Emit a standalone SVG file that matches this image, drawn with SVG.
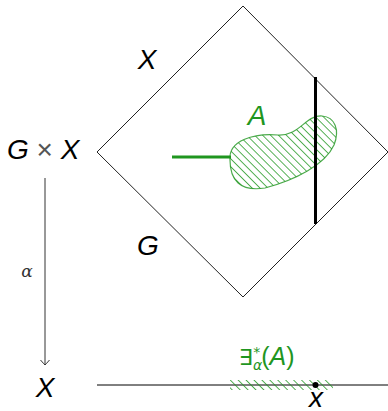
<svg xmlns="http://www.w3.org/2000/svg" width="388" height="411" viewBox="0 0 388 411">
<style>
.lbl{font-family:"Liberation Sans","DejaVu Sans",sans-serif;font-style:italic;font-size:28px;fill:#000}
.grn{fill:#1f961f}
</style>
<defs>
<pattern id="hatch" patternUnits="userSpaceOnUse" width="5.6" height="5.6" patternTransform="rotate(-45)">
<line x1="0" y1="0" x2="0" y2="5.6" stroke="#1f961f" stroke-width="1.5"/>
</pattern>
<marker id="to" viewBox="-6 -6 8 12" markerWidth="8" markerHeight="12" refX="0" refY="0" orient="auto" markerUnits="userSpaceOnUse">
<path d="M -5 -4.5 Q -1 -1 0 0 Q -1 1 -5 4.5" fill="none" stroke="#333" stroke-width="1"/>
</marker>
</defs>
<g id="diamond">
<polygon points="243,6 388,152 243,297 97,152" fill="none" stroke="#222" stroke-width="1"/>
<text class="lbl" x="147" y="69" text-anchor="middle">X</text>
<text class="lbl" x="148" y="255" text-anchor="middle">G</text>
</g>
<g id="GxX">
<text class="lbl" x="7" y="159">G <tspan font-style="normal" font-weight="300" fill="#555">×</tspan> X</text>
</g>
<g id="A">
<path d="M 230 160 C 228 140, 255 133, 278 135 C 300 136, 305 115, 322 116 C 335 117, 340 130, 334 145 C 325 165, 295 180, 265 188 C 240 192, 230 180, 230 160 Z" fill="url(#hatch)" stroke="#1f961f" stroke-width="1.2" stroke-opacity="0.8"/>
<line x1="172" y1="157" x2="231" y2="157" stroke="#1f961f" stroke-width="3"/>
<text class="lbl grn" x="257" y="125" text-anchor="middle">A</text>
</g>
<g id="fiber">
<line x1="315.5" y1="77" x2="315.5" y2="224" stroke="#000" stroke-width="3"/>
</g>
<g id="Xbase">
<text class="lbl" x="45" y="397" text-anchor="middle">X</text>
<line x1="97" y1="385" x2="388" y2="385" stroke="#000" stroke-width="1"/>
<rect x="230" y="380" width="103" height="10" fill="url(#hatch)"/>
<circle cx="315.5" cy="385" r="3" fill="#000"/>
<text class="lbl" x="316" y="407" text-anchor="middle" font-size="24">x</text>
<text class="grn" x="239" y="365" font-family="'DejaVu Sans',sans-serif" font-size="22">∃<tspan font-style="italic" font-size="14" dy="5">α</tspan><tspan font-size="14" dx="-9" dy="-13">*</tspan><tspan font-family="'Liberation Sans',sans-serif" font-size="25" dx="1" dy="8">(</tspan><tspan font-family="'Liberation Sans',sans-serif" font-style="italic" font-size="25">A</tspan><tspan font-family="'Liberation Sans',sans-serif" font-size="25">)</tspan></text>
</g>
<g id="connectors">
<line x1="45" y1="178" x2="45" y2="365" stroke="#333" stroke-width="1" marker-end="url(#to)"/>
<text x="27" y="277" text-anchor="middle" font-family="'DejaVu Serif',serif" font-style="italic" font-size="17" fill="#333">α</text>
</g>
</svg>
